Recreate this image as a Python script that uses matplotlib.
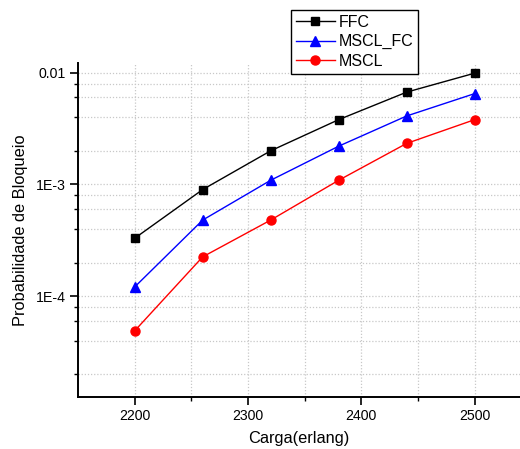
import matplotlib
matplotlib.use("Agg")
import matplotlib.pyplot as plt
from matplotlib.ticker import FixedLocator, FuncFormatter

plt.rcParams['font.family'] = ['Liberation Sans', 'DejaVu Sans']

# Offered load (erlang) and blocking probability per scheme
carga = [2200, 2260, 2320, 2380, 2440, 2500]
ffc = [3.3e-4, 9.0e-4, 2.0e-3, 3.8e-3, 6.7e-3, 9.9e-3]
mscl_fc = [1.21e-4, 4.8e-4, 1.09e-3, 2.2e-3, 4.1e-3, 6.5e-3]
mscl = [4.9e-5, 2.25e-4, 4.8e-4, 1.09e-3, 2.33e-3, 3.8e-3]

series_names = ['FFC', 'MSCL_FC', 'MSCL']
y_tick_values = [1e-4, 1e-3, 1e-2]
y_tick_labels = ['1E-4', '1E-3', '0.01']
x_tick_values = [2200, 2300, 2400, 2500]

W, H = 520, 449
fig = plt.figure(figsize=(W / 100, H / 100), dpi=100)
left, right, top, bottom = 78, 520, 63, 396.7
ax = fig.add_axes([left / W, 1 - bottom / H, (right - left) / W, (bottom - top) / H])

ax.plot(carga, ffc, color='black', lw=1.0, marker='s', ms=5.5, label=series_names[0], zorder=3)
ax.plot(carga, mscl_fc, color='blue', lw=1.0, marker='^', ms=7, label=series_names[1], zorder=3)
ax.plot(carga, mscl, color='red', lw=1.0, marker='o', ms=6.5, label=series_names[2], zorder=3)

ax.set_yscale('log')
ax.set_xlim(2150, 2540)
ax.set_ylim(1.262e-5, 0.01221)

ax.xaxis.set_major_locator(FixedLocator(x_tick_values))
ax.xaxis.set_minor_locator(FixedLocator([2250, 2350, 2450]))
ax.yaxis.set_major_locator(FixedLocator(y_tick_values))
ax.yaxis.set_major_formatter(FuncFormatter(
    lambda v, p: dict(zip(y_tick_values, y_tick_labels)).get(v, '')))
minor_y = [m * 10.0 ** e for e in (-5, -4, -3) for m in (2, 4, 6, 8)]
ax.yaxis.set_minor_locator(FixedLocator(minor_y))
ax.yaxis.set_minor_formatter(FuncFormatter(lambda v, p: ''))

ax.grid(True, which='both', color='#c8c8c8', linestyle=(0, (1, 1.5)), linewidth=0.9, zorder=0)
ax.set_axisbelow(True)

for s in ('top', 'right'):
    ax.spines[s].set_visible(False)
for s in ('left', 'bottom'):
    ax.spines[s].set_linewidth(1.4)

ax.tick_params(axis='both', which='major', direction='out', length=5.5, width=1.2,
               labelsize=10.2, pad=3)
ax.tick_params(axis='both', which='minor', direction='out', length=3.2, width=1.0)

ax.set_xlabel('Carga(erlang)', fontsize=11.8, labelpad=6)
ax.set_ylabel('Probabilidade de Bloqueio', fontsize=11.8, labelpad=6)

leg = fig.legend(loc='upper left', bbox_to_anchor=(291 / W, 1 - 10 / H),
                 fontsize=11.5, frameon=True, fancybox=False, edgecolor='black',
                 framealpha=1, borderpad=0.3, borderaxespad=0, labelspacing=0.28,
                 handlelength=2.45, handletextpad=0.25)
leg.get_frame().set_linewidth(1.0)

fig.savefig('out.png', dpi=100)
